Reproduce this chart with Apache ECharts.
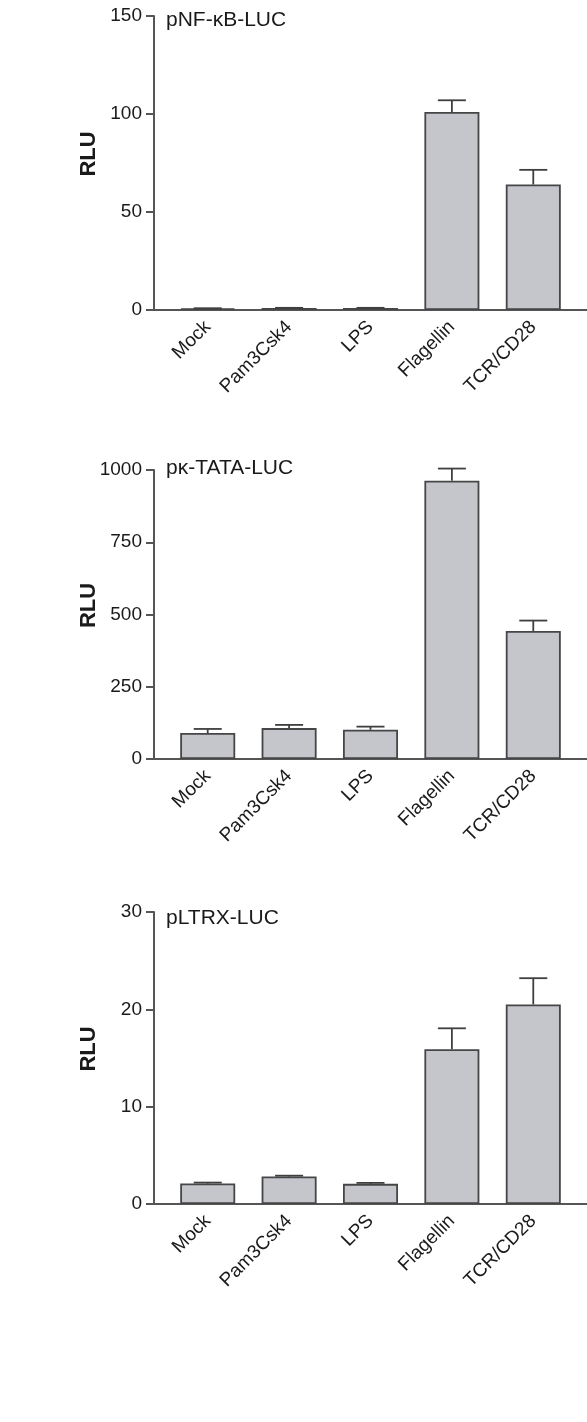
<!DOCTYPE html>
<html>
<head>
<meta charset="utf-8">
<script src="https://cdn.jsdelivr.net/npm/echarts@6/dist/echarts.min.js"></script>
<style>
  html, body { margin: 0; padding: 0; background: #ffffff; }
  #chart { width: 587px; height: 1422px; }
</style>
</head>
<body>
<div id="chart"></div>
<script>
// Luciferase reporter readouts (RLU) for each stimulus
const categories = ['Mock', 'Pam3Csk4', 'LPS', 'Flagellin', 'TCR/CD28'];

const nfkbMean = [0.8, 1.0, 1.0, 101, 64];
const nfkbErr  = [0.1, 0.1, 0.1, 6, 7.5];

const tataMean = [90, 107, 101, 963, 443];
const tataErr  = [14, 11, 11, 42, 36];

const ltrxMean = [2.1, 2.83, 2.07, 15.9, 20.5];
const ltrxErr  = [0.1, 0.08, 0.1, 2.15, 2.7];

const panelTitles = ['pNF-κB-LUC', 'pκ-TATA-LUC', 'pLTRX-LUC'];
const yMax = [150, 1000, 30];
const yStep = [50, 250, 10];

const FONT = '"Liberation Sans", Arial, Helvetica, sans-serif';
const AXIS_COLOR = '#555555';
const TEXT_COLOR = '#1a1a1a';

// panel layout: top of plot area and its height
const panels = [
  { top: 16,  height: 294, titleTop: 10 },
  { top: 470, height: 289, titleTop: 458 },
  { top: 912, height: 292, titleTop: 908 }
];

const means = [nfkbMean, tataMean, ltrxMean];
const errs = [nfkbErr, tataErr, ltrxErr];

function errorBarItem(params, api) {
  const x = api.value(0);
  const lo = api.value(1);
  const hi = api.value(2);
  const p0 = api.coord([x, lo]);
  const p1 = api.coord([x, hi]);
  const half = 14;
  const style = { stroke: '#3f3f3f', lineWidth: 1.8 };
  return {
    type: 'group',
    children: [
      { type: 'line', shape: { x1: p0[0], y1: p0[1], x2: p1[0], y2: p1[1] }, style: style },
      { type: 'line', shape: { x1: p1[0] - half, y1: p1[1], x2: p1[0] + half, y2: p1[1] }, style: style }
    ]
  };
}

const grid = [], xAxis = [], yAxis = [], series = [], title = [];

panels.forEach(function (p, i) {
  grid.push({ left: 154, width: 436, top: p.top, height: p.height, containLabel: false });

  title.push({
    text: panelTitles[i],
    left: 166,
    top: p.titleTop,
    padding: 0,
    textStyle: { fontFamily: FONT, fontSize: 21, fontWeight: 'normal', color: TEXT_COLOR }
  });

  xAxis.push({
    type: 'value',
    gridIndex: i,
    min: -0.66,
    max: 4.66,
    axisLine: { show: true, lineStyle: { color: AXIS_COLOR, width: 2 } },
    axisTick: { show: false },
    splitLine: { show: false },
    axisLabel: {
      customValues: [0, 1, 2, 3, 4],
      formatter: function (v) { return categories[Math.round(v)]; },
      rotate: 45,
      margin: 14,
      fontFamily: FONT,
      fontSize: 19,
      color: TEXT_COLOR
    }
  });

  yAxis.push({
    type: 'value',
    gridIndex: i,
    min: 0,
    max: yMax[i],
    interval: yStep[i],
    name: 'RLU',
    nameLocation: 'middle',
    nameGap: 54,
    nameMoveOverlap: false,
    nameTextStyle: {
      fontFamily: FONT, fontSize: 22, fontWeight: 'bold', color: TEXT_COLOR,
      padding: [0, 0, 0, 18]
    },
    axisLine: { show: true, onZero: false, lineStyle: { color: AXIS_COLOR, width: 2 } },
    axisTick: { show: true, length: 8, lineStyle: { color: AXIS_COLOR, width: 2 } },
    splitLine: { show: false },
    axisLabel: {
      margin: 12,
      formatter: function (v) { return String(v); },
      fontFamily: FONT, fontSize: 19, color: TEXT_COLOR
    }
  });

  series.push({
    type: 'bar',
    xAxisIndex: i,
    yAxisIndex: i,
    barWidth: 55,
    data: means[i].map(function (v, k) { return [k, v]; }),
    itemStyle: { color: '#c5c6cc', borderColor: '#464646', borderWidth: 1.8 },
    silent: true,
    z: 2
  });

  series.push({
    type: 'custom',
    xAxisIndex: i,
    yAxisIndex: i,
    renderItem: errorBarItem,
    encode: { x: 0, y: [1, 2] },
    data: means[i].map(function (v, k) { return [k, v, v + errs[i][k]]; }),
    silent: true,
    z: 3
  });
});

const chart = echarts.init(document.getElementById('chart'), null, { renderer: 'canvas' });
chart.setOption({
  backgroundColor: '#ffffff',
  animation: false,
  title: title,
  grid: grid,
  xAxis: xAxis,
  yAxis: yAxis,
  series: series
});
</script>
</body>
</html>
